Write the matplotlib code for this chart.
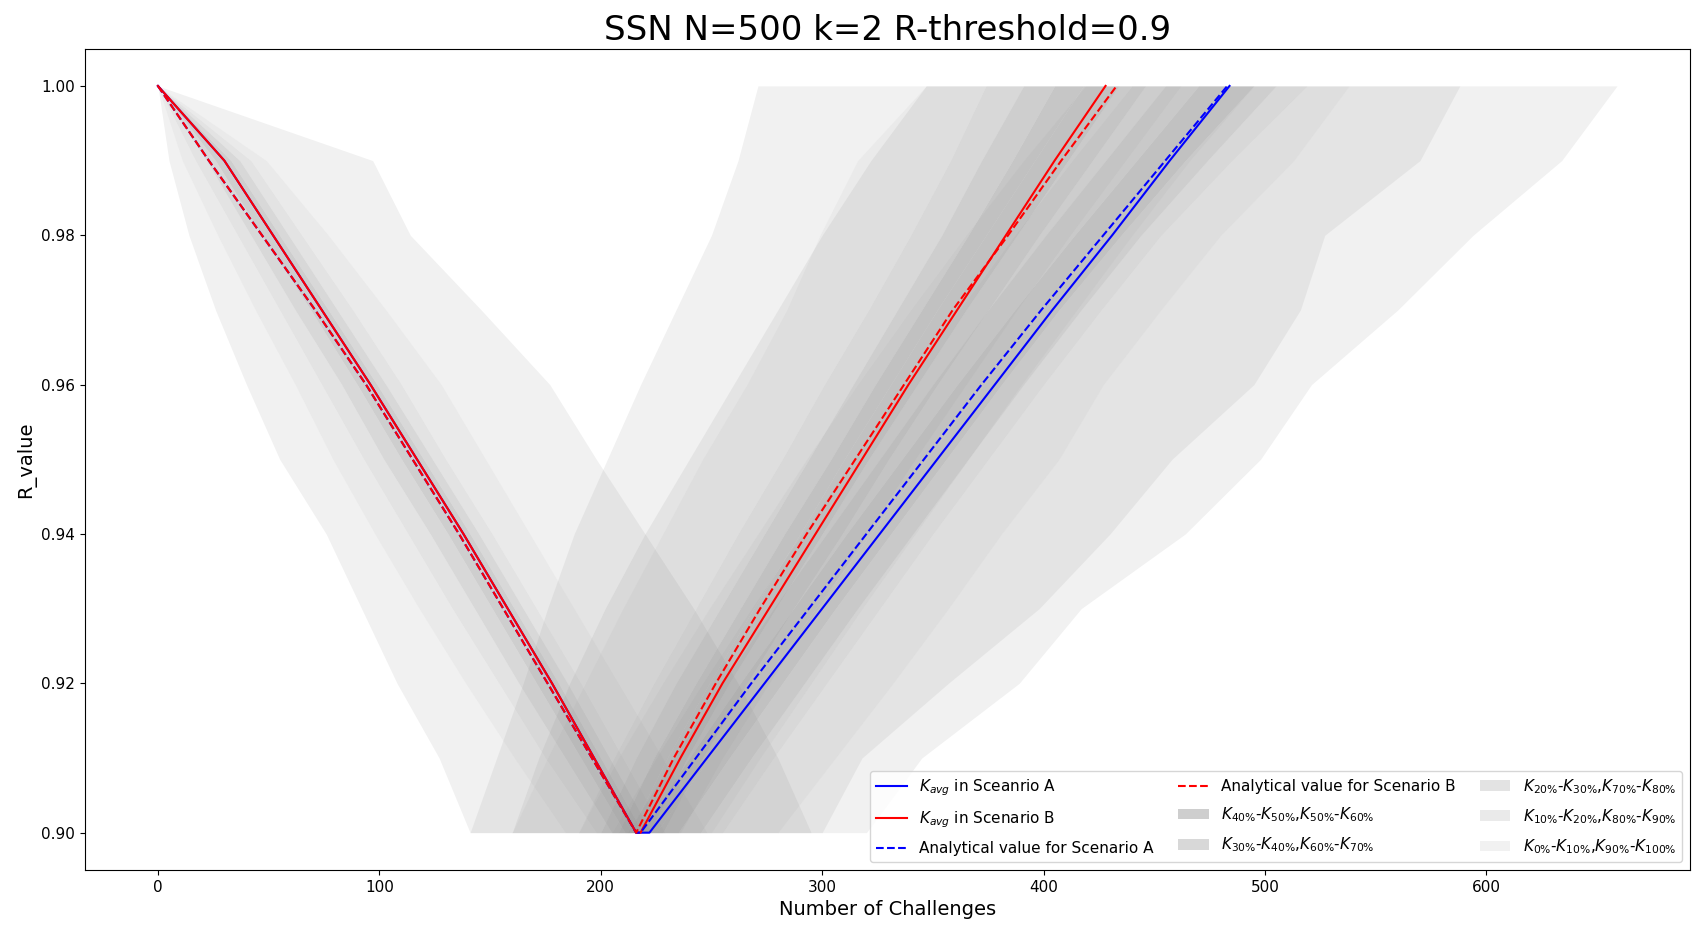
import matplotlib.pyplot as plt

# R levels
r_down = [1.00, 0.99, 0.98, 0.97, 0.96, 0.95, 0.94, 0.93, 0.92, 0.91, 0.90]
r_up = [0.90, 0.91, 0.92, 0.93, 0.94, 0.95, 0.96, 0.97, 0.98, 0.99, 1.00]

# percentiles K0%..K100% of challenges while R drops (shared by both scenarios)
down_k = [
    [0, 5, 14, 26, 40, 55, 76, 92, 108, 127, 141],
    [0, 11, 27, 44, 62, 79, 98, 118, 139, 161, 184],
    [0, 17, 36, 55, 74, 93, 113, 133, 154, 175, 198],
    [0, 22, 42, 62, 83, 102, 123, 143, 163, 184, 205],
    [0, 26, 47, 69, 90, 110, 131, 151, 171, 191, 211],
    [0, 29, 51, 73, 95, 115, 136, 156, 176, 195, 214],
    [0, 33, 55, 77, 99, 120, 141, 161, 181, 200, 219],
    [0, 37, 59, 81, 103, 124, 145, 165, 185, 204, 223],
    [0, 42, 65, 88, 110, 130, 151, 171, 191, 210, 229],
    [0, 49, 77, 103, 128, 148, 168, 188, 208, 228, 248],
    [0, 97, 114, 146, 177, 198, 220, 242, 262, 280, 295],
]

# percentiles while R recovers, scenario A
up_k_a = [
    [160, 172, 186, 202, 220, 240, 260, 280, 300, 322, 347],
    [190, 208, 228, 249, 271, 293, 316, 340, 365, 391, 419],
    [205, 225, 246, 268, 291, 314, 338, 362, 387, 413, 440],
    [212, 233, 255, 278, 302, 326, 350, 375, 401, 428, 455],
    [218, 240, 263, 287, 311, 336, 361, 387, 414, 442, 470],
    [225, 249, 273, 297, 322, 347, 373, 399, 427, 456, 484],
    [235, 258, 282, 306, 331, 356, 381, 407, 435, 464, 495],
    [245, 268, 292, 316, 341, 366, 391, 417, 444, 474, 505],
    [255, 278, 302, 326, 350, 375, 400, 426, 453, 485, 519],
    [280, 306, 332, 357, 381, 407, 427, 453, 480, 513, 538],
    [320, 345, 389, 417, 464, 498, 521, 560, 594, 634, 659],
]

# percentiles while R recovers, scenario B
up_k_b = [
    [141, 153, 165, 176, 188, 203, 218, 234, 250, 262, 271],
    [160, 176, 193, 210, 228, 246, 266, 284, 299, 316, 347],
    [190, 206, 224, 243, 262, 282, 301, 321, 340, 358, 374],
    [200, 216, 234, 254, 274, 294, 314, 334, 354, 372, 391],
    [208, 224, 243, 263, 283, 304, 324, 345, 366, 386, 405],
    [213, 230, 249, 269, 290, 310, 331, 352, 374, 396, 418],
    [222, 239, 258, 279, 300, 321, 343, 365, 388, 411, 434],
    [228, 246, 266, 287, 309, 330, 352, 375, 398, 422, 446],
    [236, 255, 276, 298, 320, 342, 365, 388, 412, 437, 462],
    [250, 272, 295, 318, 342, 366, 390, 415, 440, 466, 495],
    [300, 318, 357, 398, 430, 458, 495, 516, 527, 570, 588],
]

# average K and analytical values
avg_down = [0, 30, 52, 74, 96, 117, 138, 158, 178, 197, 216]
avg_up_a = [222, 248, 274, 300, 326, 352, 378, 404, 431, 457, 484]
avg_up_b = [218, 236, 255, 276, 297, 318, 339, 361, 383, 405, 428]
ana_down = [0, 23, 47, 71, 94, 115, 136, 156, 176, 196, 216]
ana_up_a = [218, 243, 268, 294, 320, 346, 372, 399, 427, 455, 483]
ana_up_b = [216, 233, 252, 272, 293, 315, 337, 359, 384, 408, 433]

band_labels = [r'$K_{0\%}$-$K_{10\%}$,$K_{90\%}$-$K_{100\%}$',
               r'$K_{10\%}$-$K_{20\%}$,$K_{80\%}$-$K_{90\%}$',
               r'$K_{20\%}$-$K_{30\%}$,$K_{70\%}$-$K_{80\%}$',
               r'$K_{30\%}$-$K_{40\%}$,$K_{60\%}$-$K_{70\%}$',
               r'$K_{40\%}$-$K_{50\%}$,$K_{50\%}$-$K_{60\%}$']
band_alpha = [0.11, 0.16, 0.22, 0.3, 0.38]

fig = plt.figure(figsize=(16.92, 9.27), dpi=100)
ax = fig.add_axes([0.0502, 0.0615, 0.9486, 0.8861])


def draw_bands(r, k, with_label):
    for j in range(5):
        lab = band_labels[j] if with_label else None
        ax.fill_betweenx(r, k[j], k[j + 1], color='gray', alpha=band_alpha[j], linewidth=0, label=lab)
        ax.fill_betweenx(r, k[9 - j], k[10 - j], color='gray', alpha=band_alpha[j], linewidth=0)


draw_bands(r_down, down_k, True)
draw_bands(r_up, up_k_a, False)
draw_bands(r_up, up_k_b, False)

r_all = r_down + r_up
ax.plot(avg_down + avg_up_a, r_all, color='blue', lw=1.5, label=r'$K_{avg}$ in Sceanrio A')
ax.plot(avg_down + avg_up_b, r_all, color='red', lw=1.5, label=r'$K_{avg}$ in Scenario B')
ax.plot(ana_down + ana_up_a, r_all, color='blue', lw=1.5, ls='--', label='Analytical value for Scenario A')
ax.plot(ana_down + ana_up_b, r_all, color='red', lw=1.5, ls='--', label='Analytical value for Scenario B')

handles, labels = ax.get_legend_handles_labels()
order = [5, 6, 7, 8, 4, 3, 2, 1, 0]
ax.legend([handles[i] for i in order], [labels[i] for i in order], loc='lower right', ncol=3,
          fontsize=11, labelspacing=0.75, columnspacing=1.6)

ax.set_title('SSN N=500 k=2 R-threshold=0.9', fontsize=24.5)
ax.set_xlabel('Number of Challenges', fontsize=14)
ax.set_ylabel('R_value', fontsize=14)
ax.tick_params(labelsize=11)

plt.savefig('out.png')
